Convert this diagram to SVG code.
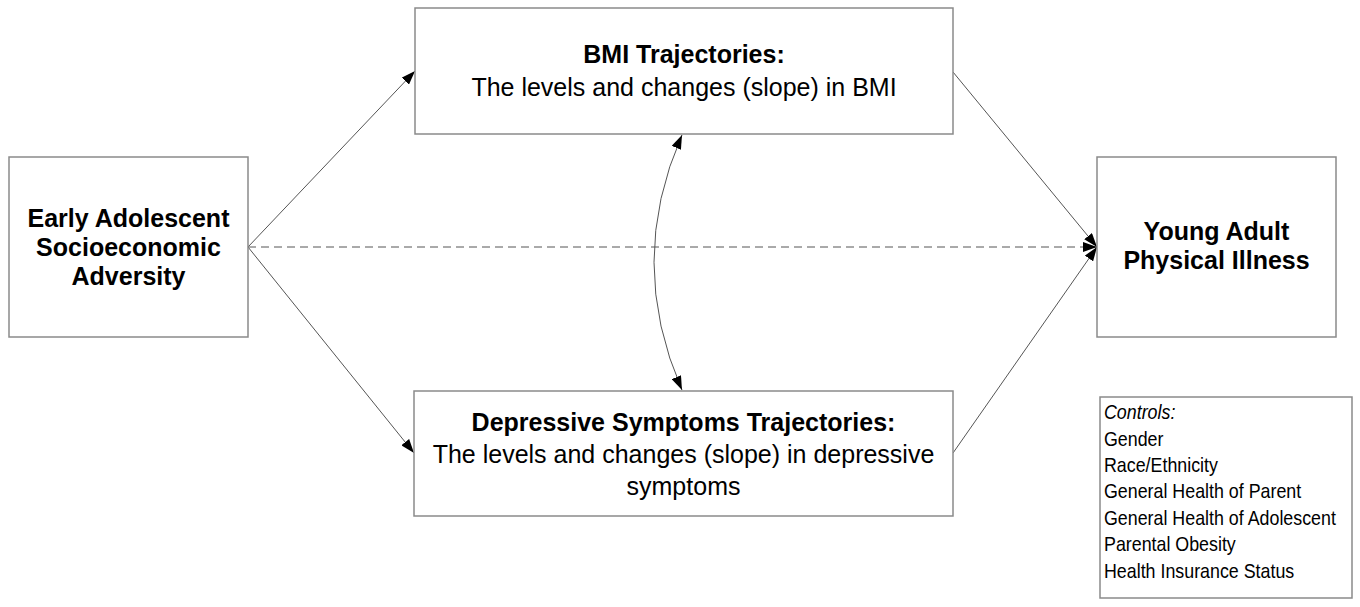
<svg xmlns="http://www.w3.org/2000/svg" width="1360" height="607" viewBox="0 0 1360 607">
<defs>
<marker id="arr" viewBox="0 0 14 10" refX="14" refY="5" markerWidth="14" markerHeight="10" markerUnits="userSpaceOnUse" orient="auto-start-reverse">
<path d="M0,0 L14,5 L0,10 z" fill="#000"/>
</marker>
<style>
.box{fill:#fff;stroke:#8a8a8a;stroke-width:1.5}
.t{font-family:"Liberation Sans",Arial,sans-serif;fill:#000;text-anchor:middle}
.b{font-weight:bold;font-size:25px}
.r{font-size:25px}
.c{font-family:"Liberation Sans",Arial,sans-serif;font-size:19.5px;fill:#000}
.ln{fill:none;stroke:#555;stroke-width:1}
</style>
</defs>
<rect width="1360" height="607" fill="#fff"/>
<g id="connectors">
<line class="ln" x1="248" y1="247" x2="415" y2="71" marker-end="url(#arr)"/>
<line class="ln" x1="248" y1="247" x2="414" y2="453" marker-end="url(#arr)"/>
<line class="ln" x1="248" y1="247" x2="1097" y2="247" stroke-dasharray="8,5" marker-end="url(#arr)"/>
<line class="ln" x1="953" y1="72" x2="1097" y2="247" marker-end="url(#arr)"/>
<line class="ln" x1="953" y1="453" x2="1097" y2="247" marker-end="url(#arr)"/>
<path class="ln" d="M682,135 Q626,262 682,390" marker-start="url(#arr)" marker-end="url(#arr)"/>
</g>
<g id="early">
<rect class="box" x="9" y="157" width="239" height="180"/>
<text class="t b" x="128.5" y="227">Early Adolescent</text>
<text class="t b" x="128.5" y="256">Socioeconomic</text>
<text class="t b" x="128.5" y="285">Adversity</text>
</g>
<g id="bmi">
<rect class="box" x="415" y="8" width="538" height="126"/>
<text class="t b" x="684" y="63">BMI Trajectories:</text>
<text class="t r" x="684" y="96">The levels and changes (slope) in BMI</text>
</g>
<g id="dep">
<rect class="box" x="414" y="391" width="539" height="125"/>
<text class="t b" x="683.5" y="431">Depressive Symptoms Trajectories:</text>
<text class="t r" x="683.5" y="463">The levels and changes (slope) in depressive</text>
<text class="t r" x="683.5" y="495">symptoms</text>
</g>
<g id="young">
<rect class="box" x="1097" y="157" width="239" height="180"/>
<text class="t b" x="1216.5" y="240">Young Adult</text>
<text class="t b" x="1216.5" y="269">Physical Illness</text>
</g>
<g id="controls">
<rect class="box" x="1100" y="397" width="252" height="201"/>
<g transform="translate(1104,0) scale(0.915,1)">
<text class="c" x="0" y="419" font-style="italic">Controls:</text>
<text class="c" x="0" y="446">Gender</text>
<text class="c" x="0" y="472">Race/Ethnicity</text>
<text class="c" x="0" y="498">General Health of Parent</text>
<text class="c" x="0" y="525">General Health of Adolescent</text>
<text class="c" x="0" y="551">Parental Obesity</text>
<text class="c" x="0" y="578">Health Insurance Status</text>
</g>
</g>
</svg>
